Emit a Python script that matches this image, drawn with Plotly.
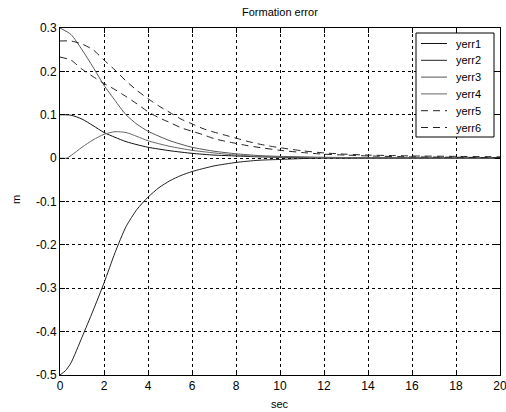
import plotly.graph_objects as go

t_a = [0, 0.5, 1, 1.5, 2, 2.5, 3, 3.5, 4, 5, 6, 7, 8, 9, 10, 12, 14, 20]
yerr3 = [0.3, 0.285, 0.25, 0.21, 0.168, 0.133, 0.1, 0.078, 0.062, 0.04, 0.025, 0.016, 0.01, 0.006, 0.004, 0.002, 0.001, 0.0]

t_b = [0, 0.5, 1, 1.5, 2, 2.5, 3, 3.5, 4, 5, 6, 7, 8, 9, 10, 12, 14, 20]
yerr1 = [0.1, 0.099, 0.09, 0.075, 0.059, 0.048, 0.038, 0.031, 0.025, 0.017, 0.011, 0.007, 0.005, 0.003, 0.002, 0.001, 0.0, 0.0]

t_c = [0, 0.3, 0.5, 1, 1.5, 2, 2.5, 3, 3.5, 4, 5, 6, 7, 8, 9, 10, 12, 14, 20]
yerr4 = [0.0, 0.0, 0.006, 0.025, 0.042, 0.055, 0.061, 0.059, 0.05, 0.04, 0.027, 0.018, 0.012, 0.007, 0.004, 0.003, 0.001, 0.0, 0.0]

t_d = [0, 0.25, 0.5, 1, 1.5, 2, 2.5, 3, 3.5, 4, 4.5, 5, 5.5, 6, 7, 8, 9, 10, 11, 12, 20]
yerr2 = [-0.5, -0.49, -0.472, -0.413, -0.352, -0.288, -0.218, -0.158, -0.118, -0.09, -0.068, -0.052, -0.04, -0.031, -0.018, -0.01, -0.005, -0.003, -0.001, 0.0, 0.0]

t_e = [0, 0.5, 1, 1.5, 2, 2.5, 3, 3.5, 4, 4.5, 5, 5.5, 6, 6.5, 7, 7.5, 8, 8.5, 9, 9.5, 10, 11, 12, 13, 14, 15, 16, 18, 20]
yerr5 = [0.27, 0.27, 0.263, 0.25, 0.226, 0.203, 0.178, 0.156, 0.137, 0.12, 0.105, 0.09, 0.079, 0.068, 0.06, 0.053, 0.046, 0.039, 0.033, 0.028, 0.024, 0.017, 0.012, 0.009, 0.007, 0.006, 0.005, 0.004, 0.003]

t_f = [0, 0.5, 1, 1.5, 2, 2.5, 3, 3.5, 4, 4.5, 5, 5.5, 6, 6.5, 7, 7.5, 8, 8.5, 9, 10, 11, 12, 13, 14, 16, 18, 20]
yerr6 = [0.233, 0.226, 0.205, 0.188, 0.172, 0.158, 0.142, 0.125, 0.107, 0.093, 0.082, 0.07, 0.062, 0.054, 0.045, 0.039, 0.034, 0.029, 0.025, 0.018, 0.013, 0.009, 0.007, 0.005, 0.003, 0.002, 0.001]

x_ticks = [0, 2, 4, 6, 8, 10, 12, 14, 16, 18, 20]
y_ticks = [-0.5, -0.4, -0.3, -0.2, -0.1, 0, 0.1, 0.2, 0.3]
y_ticklabels = ["-0.5", "-0.4", "-0.3", "-0.2", "-0.1", "0", "0.1", "0.2", "0.3"]

series = [
    ("yerr1", t_b, yerr1, "#111111", "solid"),
    ("yerr2", t_d, yerr2, "#222222", "solid"),
    ("yerr3", t_a, yerr3, "#555555", "solid"),
    ("yerr4", t_c, yerr4, "#666666", "solid"),
    ("yerr5", t_e, yerr5, "#222222", "7px,5px"),
    ("yerr6", t_f, yerr6, "#222222", "7px,5px"),
]

fam = "Liberation Sans, Arial, sans-serif"
font = dict(family=fam, size=12, color="black")

W, H = 506, 412
L, R, T, B = 60, 6, 28, 37
pw, ph = W - L - R, H - T - B


def px(x):
    return (x - L) / pw


def py(y):
    return 1 - (y - T) / ph


fig = go.Figure()
for name, tx, ty, col, dash in series:
    fig.add_trace(go.Scatter(x=tx, y=ty, mode="lines", name=name, showlegend=False,
                             line=dict(color=col, width=1, dash=dash, shape="spline", smoothing=0.6)))

# legend box drawn as in the original figure
shapes = [dict(type="rect", xref="paper", yref="paper", x0=px(416), x1=px(494), y0=py(137), y1=py(33),
               line=dict(color="black", width=1), fillcolor="white", layer="above")]
annotations = []
for i, (name, tx, ty, col, dash) in enumerate(series):
    yc = 43.5 + i * 16.8
    shapes.append(dict(type="line", xref="paper", yref="paper", x0=px(421), x1=px(447), y0=py(yc), y1=py(yc),
                       line=dict(color=col, width=1, dash=dash), layer="above"))
    annotations.append(dict(text=name, xref="paper", yref="paper", x=px(454), y=py(yc), xanchor="left",
                            yanchor="middle", showarrow=False, font=dict(size=11, family=fam, color="black")))

annotations += [
    dict(text="Formation error", xref="paper", yref="paper", x=0.5, y=1 + (T - 12) / ph,
         xanchor="center", yanchor="middle", showarrow=False, font=dict(size=11, family=fam)),
    dict(text="sec", xref="paper", yref="paper", x=0.5, y=-(404 - (T + ph)) / ph,
         xanchor="center", yanchor="middle", showarrow=False, font=dict(size=11, family=fam)),
    dict(text="m", xref="paper", yref="paper", x=(16 - L) / pw, y=1 - (200 - T) / ph,
         xanchor="center", yanchor="middle", textangle=-90, showarrow=False,
         font=dict(size=11, family=fam)),
]

axis_common = dict(showline=True, linecolor="black", linewidth=1, mirror="ticks",
                   ticks="inside", ticklen=5, tickcolor="black", showgrid=True,
                   gridcolor="black", gridwidth=1, griddash="3px,3px", zeroline=False,
                   tickfont=font, automargin=False, ticklabeloverflow="allow")

fig.update_layout(
    width=W, height=H,
    margin=dict(l=L, r=R, t=T, b=B, autoexpand=False),
    paper_bgcolor="white", plot_bgcolor="white",
    font=font,
    xaxis=dict(range=[0, 20], tickvals=x_ticks, ticktext=[str(v) for v in x_ticks], **axis_common),
    yaxis=dict(range=[-0.5, 0.3], tickvals=y_ticks, ticktext=y_ticklabels, **axis_common),
    showlegend=False,
    shapes=shapes,
    annotations=annotations,
)

fig.write_html("out.html", config={"displayModeBar": False},
               post_script="document.body.style.margin='0';document.body.style.overflow='hidden';")
